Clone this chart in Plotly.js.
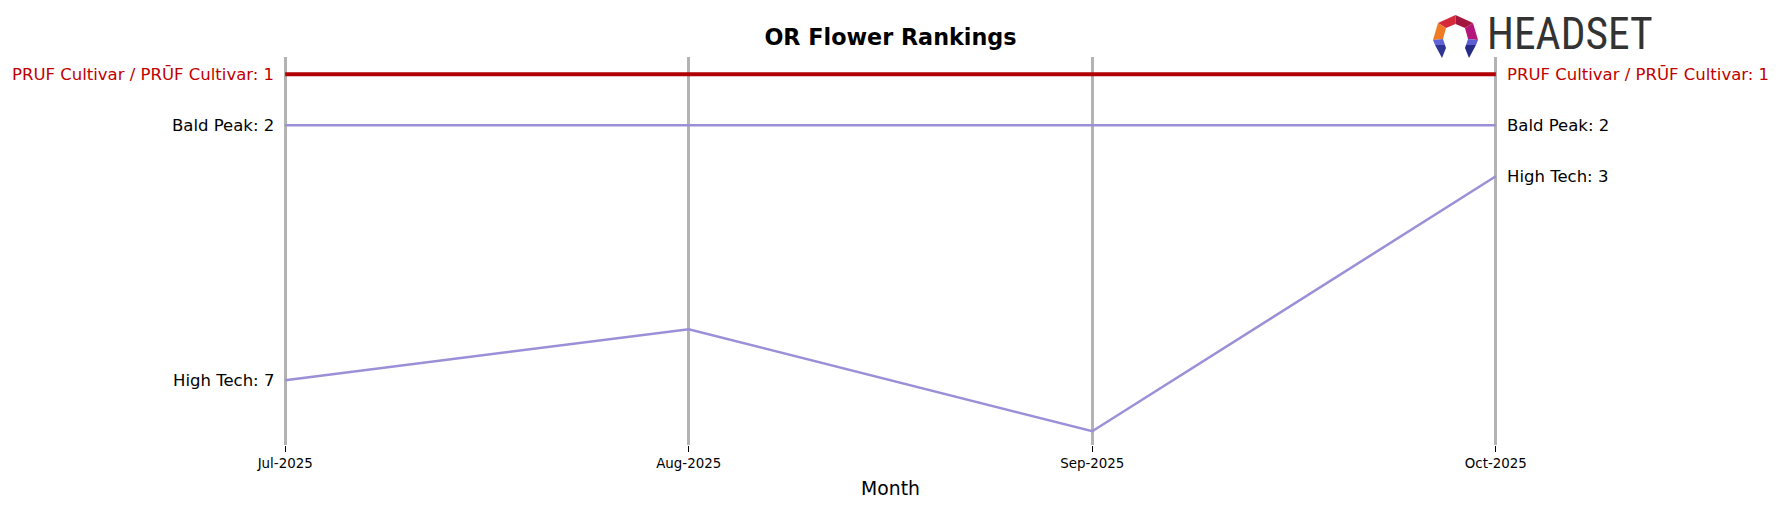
<!DOCTYPE html>
<html>
<head>
<meta charset="utf-8">
<script src="https://cdn.plot.ly/plotly-3.0.1.min.js"></script>
<style>html,body{margin:0;padding:0;background:#fff;}#chart{width:1780px;height:507px;}</style>
</head>
<body>
<div id="chart"></div>
<script>
const months = ['Jul-2025', 'Aug-2025', 'Sep-2025', 'Oct-2025'];
const seriesNames = ['Bald Peak', 'High Tech', 'PRUF Cultivar / PRŪF Cultivar'];
const baldPeakRanks = [2, 2, 2, 2];
const highTechRanks = [7, 6, 8, 3];
const prufRanks = [1, 1, 1, 1];

const PURPLE = '#9b8fd8';
const RED = '#b00000';
const series = [
  {name: seriesNames[0], y: baldPeakRanks, color: PURPLE, width: 2.5, text: '#000000'},
  {name: seriesNames[1], y: highTechRanks, color: PURPLE, width: 2.5, text: '#000000'},
  {name: seriesNames[2], y: prufRanks, color: RED, width: 4, text: '#c00000'}
];

const traces = series.map(s => ({
  x: months, y: s.y, type: 'scatter', mode: 'lines', name: s.name,
  line: {color: s.color, width: s.width}, hoverinfo: 'skip'
}));

const FONT = 'DejaVu Sans, Liberation Sans, sans-serif';
const annotations = [];
series.forEach(s => {
  const first = s.y[0], last = s.y[s.y.length - 1];
  annotations.push({x: months[0], y: first, xref: 'x', yref: 'y', text: s.name + ': ' + first,
    showarrow: false, xanchor: 'right', yanchor: 'middle', xshift: -9,
    font: {family: FONT, size: 16.5, color: s.text}});
  annotations.push({x: months[months.length - 1], y: last, xref: 'x', yref: 'y', text: s.name + ': ' + last,
    showarrow: false, xanchor: 'left', yanchor: 'middle', xshift: 9,
    font: {family: FONT, size: 16.5, color: s.text}});
});

// HEADSET wordmark
const L = 265, R = 264, T = 57, B = 62, W = 1780, H = 507;
const pw = W - L - R, ph = H - T - B;
const px = v => (v - L) / pw;
const py = v => (H - B - v) / ph;
annotations.push({xref: 'paper', yref: 'paper', x: px(1485), y: py(34.5), xanchor: 'left', yanchor: 'middle',
  text: 'HEADSET', showarrow: false,
  font: {family: 'Liberation Sans Narrow, Roboto Condensed, Liberation Sans, sans-serif', size: 43.5, color: '#333333'}});

const svg = `<svg xmlns='http://www.w3.org/2000/svg' viewBox='0 0 45 43'>
<polygon points='5,8 22.5,0 22.5,9 13,13' fill='#d42a3a'/>
<polygon points='22.5,0 40,8 32,13 22.5,9' fill='#a3163d'/>
<polygon points='5,8 13,13 10,24 0,25' fill='#ef7b25'/>
<polygon points='40,8 45,25 35,24 32,13' fill='#b4177a'/>
<polygon points='0,25 10,24 12,30 2,30' fill='#6062d6'/>
<polygon points='2,30 12,30 13,33 9,43' fill='#2f3591'/>
<polygon points='45,25 35,24 33,30 43,30' fill='#5b5fd2'/>
<polygon points='43,30 33,30 32,33 36,43' fill='#262b86'/>
</svg>`;
const images = [{
  source: 'data:image/svg+xml;utf8,' + encodeURIComponent(svg),
  xref: 'paper', yref: 'paper', x: px(1433), y: py(15), sizex: 45 / pw, sizey: 43 / ph,
  xanchor: 'left', yanchor: 'top', sizing: 'stretch', layer: 'above'
}];

const layout = {
  width: W, height: H,
  margin: {l: L, r: R, t: T, b: B, pad: 0},
  paper_bgcolor: '#ffffff', plot_bgcolor: '#ffffff',
  showlegend: false,
  title: {text: 'OR Flower Rankings', x: 0.5, xref: 'paper', xanchor: 'center', y: 1 - 37 / H, yref: 'container', yanchor: 'middle',
    font: {family: FONT, size: 22.3, color: '#000000', weight: 'bold'}},
  xaxis: {
    type: 'category', range: [-0.05, 3.05], showgrid: true, gridcolor: '#b3b3b3', gridwidth: 3,
    zeroline: false, showline: false, ticks: 'outside', ticklen: 6, tickwidth: 1, tickcolor: '#000',
    tickfont: {family: FONT, size: 13.4, color: '#000'},
    title: {text: 'Month', font: {family: FONT, size: 18.8, color: '#000'}, standoff: 11}
  },
  yaxis: {
    range: [8.27, 0.66], showgrid: false, zeroline: false, showline: false, showticklabels: false, ticks: ''
  },
  annotations: annotations,
  images: images
};

Plotly.newPlot('chart', traces, layout, {displayModeBar: false, staticPlot: true});
</script>
</body>
</html>
